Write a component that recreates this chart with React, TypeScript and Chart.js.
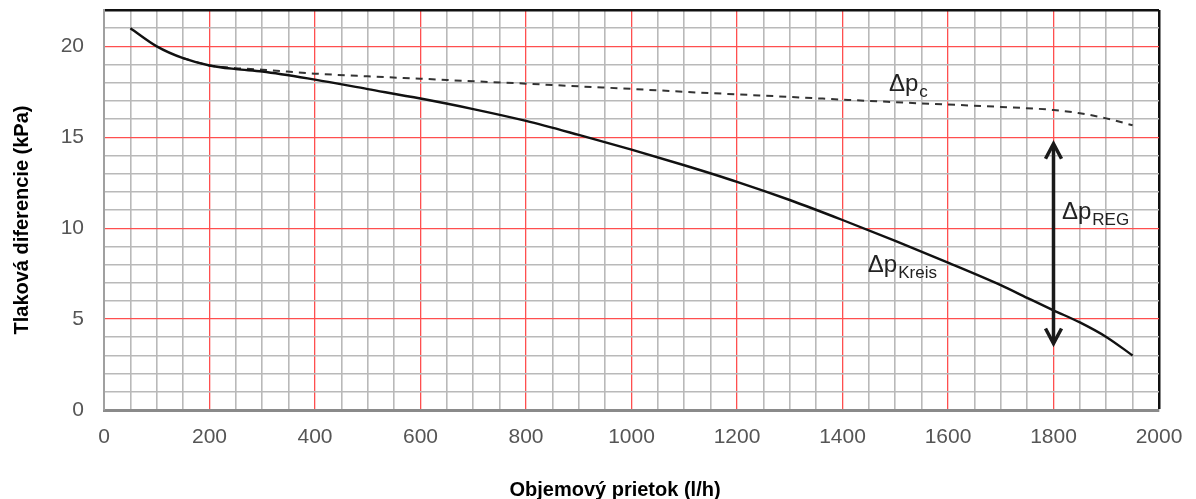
import React, { useEffect, useRef } from "react";
import { Chart, registerables, Plugin } from "chart.js";

Chart.register(...registerables);

// Δp Kreis (solid curve)
const flowKreis = [50, 100, 150, 200, 250, 300, 400, 500, 600, 700, 800, 900, 1000, 1100, 1200, 1300, 1400, 1500, 1600, 1700, 1750, 1800, 1850, 1900, 1950];
const dpKreis = [21.0, 20.0, 19.35, 18.95, 18.75, 18.62, 18.17, 17.65, 17.13, 16.55, 15.9, 15.13, 14.32, 13.46, 12.55, 11.55, 10.45, 9.3, 8.11, 6.87, 6.17, 5.48, 4.82, 4.02, 3.0];

// Δp c (dashed curve)
const flowC = [150, 200, 250, 300, 400, 500, 600, 700, 800, 900, 1000, 1100, 1200, 1300, 1400, 1500, 1600, 1700, 1800, 1850, 1900, 1950];
const dpC = [19.35, 18.95, 18.8, 18.72, 18.5, 18.35, 18.22, 18.08, 17.95, 17.8, 17.66, 17.5, 17.36, 17.22, 17.07, 16.93, 16.8, 16.67, 16.5, 16.32, 16.04, 15.66];

// Δp REG arrow
const regFlow = 1800;
const regFrom = 3.6;
const regTo = 14.7;

const curveLabels = [
  { main: "Δp", sub: "c", x: 1488, y: 17.54 },
  { main: "Δp", sub: "REG", x: 1816, y: 10.49 },
  { main: "Δp", sub: "Kreis", x: 1448, y: 7.58 },
];

const xTitle = "Objemový prietok (l/h)";
const yTitle = "Tlaková diferencie (kPa)";

const FONT = "'Liberation Sans', Arial, Helvetica, sans-serif";

const overlay: Plugin = {
  id: "overlay",
  afterDatasetsDraw(chart) {
    const { ctx } = chart;
    const x = chart.scales.x;
    const y = chart.scales.y;

    // double arrow
    const ax = x.getPixelForValue(regFlow);
    const top = y.getPixelForValue(regTo);
    const bot = y.getPixelForValue(regFrom);
    ctx.save();
    ctx.strokeStyle = "#1a1a1a";
    ctx.lineWidth = 3.5;
    ctx.lineJoin = "miter";
    ctx.beginPath();
    ctx.moveTo(ax, top + 3);
    ctx.lineTo(ax, bot - 3);
    ctx.stroke();
    ctx.beginPath();
    ctx.moveTo(ax - 8, top + 16);
    ctx.lineTo(ax, top + 1);
    ctx.lineTo(ax + 8, top + 16);
    ctx.stroke();
    ctx.beginPath();
    ctx.moveTo(ax - 8, bot - 16);
    ctx.lineTo(ax, bot - 1);
    ctx.lineTo(ax + 8, bot - 16);
    ctx.stroke();

    // curve labels
    ctx.fillStyle = "#222";
    ctx.textBaseline = "alphabetic";
    ctx.textAlign = "left";
    curveLabels.forEach((l) => {
      const px = x.getPixelForValue(l.x);
      const py = y.getPixelForValue(l.y);
      ctx.font = `24px ${FONT}`;
      ctx.fillText(l.main, px, py);
      const w = ctx.measureText(l.main).width;
      ctx.font = `17px ${FONT}`;
      ctx.fillText(l.sub, px + w + 1, py + 6);
    });

    // axis titles
    ctx.fillStyle = "#000";
    ctx.font = `bold 20px ${FONT}`;
    ctx.textAlign = "center";
    ctx.fillText(xTitle, 615, 496);
    ctx.translate(28, 220);
    ctx.rotate(-Math.PI / 2);
    ctx.fillText(yTitle, 0, 0);
    ctx.restore();
  },
};

function App() {
  const canvasRef = useRef<HTMLCanvasElement | null>(null);

  useEffect(() => {
    if (!canvasRef.current) return;
    const chart = new Chart(canvasRef.current, {
      type: "line",
      data: {
        datasets: [
          {
            label: "Δp Kreis",
            data: flowKreis.map((f, i) => ({ x: f, y: dpKreis[i] })),
            borderColor: "#111",
            borderWidth: 2.4,
            pointRadius: 0,
            cubicInterpolationMode: "monotone",
            fill: false,
          },
          {
            label: "Δp c",
            data: flowC.map((f, i) => ({ x: f, y: dpC[i] })),
            borderColor: "#333",
            borderWidth: 2,
            borderDash: [7, 6],
            pointRadius: 0,
            cubicInterpolationMode: "monotone",
            fill: false,
          },
        ],
      },
      options: {
        animation: false,
        responsive: true,
        maintainAspectRatio: false,
        layout: { padding: { top: 10, right: 37, left: 0, bottom: 0 } },
        plugins: {
          legend: { display: false },
          tooltip: { enabled: false },
        },
        scales: {
          x: {
            type: "linear",
            min: 0,
            max: 2000,
            afterFit: (s) => {
              s.height = 89;
              s.paddingLeft = 0;
              s.paddingRight = 0;
            },
            ticks: {
              stepSize: 50,
              autoSkip: false,
              maxRotation: 0,
              padding: 15,
              color: "#555",
              font: { family: FONT, size: 21 },
              callback: (v) => (Number(v) % 200 === 0 ? String(v) : ""),
            },
            grid: {
              drawTicks: false,
              color: (c) =>
                c.tick.value === 2000 ? "#111" : c.tick.value % 200 === 0 ? "#ff4f4f" : "#b9b9b9",
              lineWidth: (c) => (c.tick.value === 2000 ? 2.5 : c.tick.value % 200 === 0 ? 1.3 : 1.6),
            },
            border: { color: "#8a8a8a", width: 3 },
          },
          y: {
            type: "linear",
            min: 0,
            max: 22,
            afterFit: (s) => {
              s.width = 104;
              s.paddingTop = 0;
              s.paddingBottom = 0;
            },
            ticks: {
              stepSize: 1,
              autoSkip: false,
              padding: 20,
              color: "#555",
              font: { family: FONT, size: 21 },
              callback: (v) => (Number(v) % 5 === 0 ? String(v) : ""),
            },
            grid: {
              drawTicks: false,
              color: (c) =>
                c.tick.value === 22 ? "#111" : c.tick.value % 5 === 0 && c.tick.value !== 0 ? "#ff4f4f" : "#b9b9b9",
              lineWidth: (c) => (c.tick.value === 22 ? 2.5 : c.tick.value % 5 === 0 ? 1.3 : 1.6),
            },
            border: { color: "#a0a0a0", width: 2 },
          },
        },
      },
      plugins: [overlay],
    });
    return () => chart.destroy();
  }, []);

  return (
    <div style={{ position: "absolute", left: 0, top: 0, width: 1196, height: 499, background: "#fff" }}>
      <canvas ref={canvasRef}></canvas>
    </div>
  );
}

export default App;
